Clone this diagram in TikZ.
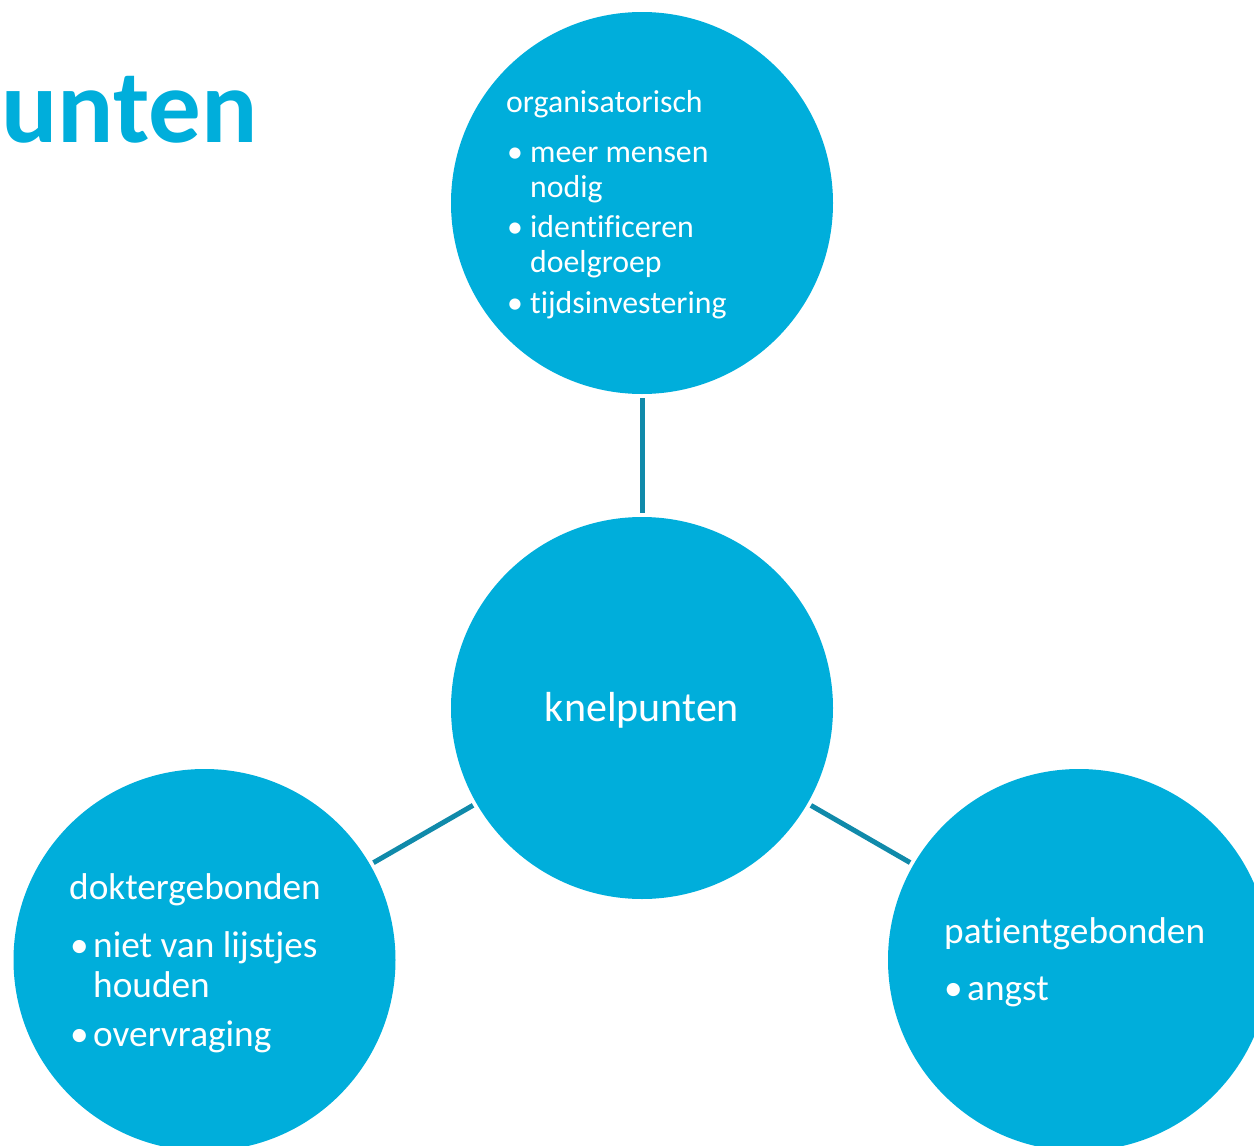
\documentclass[tikz,border=0pt]{standalone}
\usepackage{fontspec}
\setmainfont{Carlito}[Ligatures=NoCommon]
\definecolor{circ}{RGB}{0,174,219}
\definecolor{conn}{RGB}{16,138,170}
\begin{document}
\begin{tikzpicture}[x=1pt,y=-1pt,
 bub/.style={circle, fill=circ, minimum size=382pt, inner sep=0pt, outer sep=4pt},
 link/.style={draw=conn, line width=5pt},
 txt/.style={anchor=base west, inner sep=0pt, text=white},
 ts/.style={txt, font=\fontsize{31.8}{38}\selectfont},
 bs/.style={txt, font=\fontsize{37.3}{44}\selectfont},
]
\useasboundingbox (0,0) rectangle (1254,1146);
\clip (0,0) rectangle (1254,1146);
% title
\node[anchor=base west, inner sep=0pt, text=circ, font=\fontsize{105}{115}\selectfont\bfseries] (title) at (1,142) {unten};
% circles
\node[bub] (top) at (642,203) {};
\node[bub] (mid) at (642,708) {};
\node[bub] (bl) at (204.5,960) {};
\node[bub] (br) at (1079,960) {};
% connectors
\draw[link] (top) -- (mid);
\draw[link] (mid) -- (bl);
\draw[link] (mid) -- (br);
% center text
\node[anchor=base, inner sep=0pt, text=white, font=\fontsize{42}{50}\selectfont] (k) at (642,721) {knelpunten};
% top circle text
\node[ts] (t0) at (506,112) {organisatorisch};
\node[ts] (t1b) at (507,162) {\textbullet};
\node[ts] (t1) at (530,162) {meer mensen};
\node[ts] (t1c) at (530,197) {nodig};
\node[ts] (t2b) at (507,237) {\textbullet};
\node[ts] (t2) at (530,237) {identificeren};
\node[ts] (t2c) at (530,272) {doelgroep};
\node[ts] (t3b) at (507,313) {\textbullet};
\node[ts] (t3) at (530,313) {tijdsinvestering};
% bottom-left text
\node[bs] (l0) at (69,899) {doktergebonden};
\node[bs] (l1b) at (70,957) {\textbullet};
\node[bs] (l1) at (93,957) {niet van lijstjes};
\node[bs] (l1c) at (93,997) {houden};
\node[bs] (l2b) at (70,1046) {\textbullet};
\node[bs] (l2) at (93,1046) {overvraging};
% bottom-right text
\node[bs] (r0) at (944,943) {patientgebonden};
\node[bs] (r1b) at (944,1000) {\textbullet};
\node[bs] (r1) at (967,1000) {angst};
\end{tikzpicture}
\end{document}
